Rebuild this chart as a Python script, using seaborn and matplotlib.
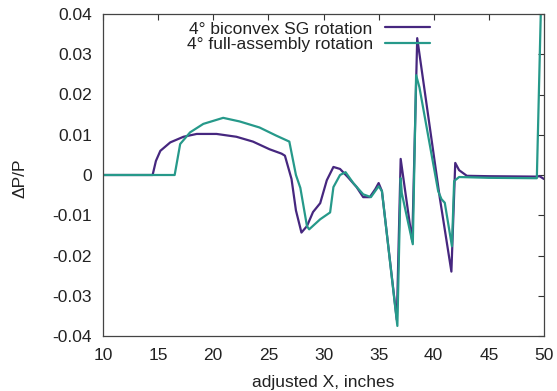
import numpy as np
import pandas as pd
import matplotlib
matplotlib.use("Agg")
import matplotlib.pyplot as plt
import seaborn as sns
from matplotlib.ticker import FuncFormatter
from matplotlib.lines import Line2D

# ---- data ----
series_names = ["4° biconvex SG rotation", "4° full-assembly rotation"]

x_biconvex = [10, 14.5, 14.8, 15.2, 16.1, 17.3, 18.5, 20.3, 22.1, 23.6, 25.1, 26.2, 26.5,
              27.1, 27.5, 28.0, 28.5, 29.05, 29.7, 30.3, 30.9, 31.5, 32.2, 33.0, 33.6,
              34.2, 34.7, 35.0, 35.3, 36.65, 37.0, 38.05, 38.5, 40.55, 41.6, 41.95,
              42.3, 43.0, 45.0, 49.3, 49.6, 50.0]
y_biconvex = [0, 0, 0.0035, 0.006, 0.0081, 0.0095, 0.0102, 0.0102, 0.0095, 0.0083, 0.0064,
              0.0053, 0.0048, -0.001, -0.0088, -0.0143, -0.0127, -0.0092, -0.007, -0.0013,
              0.002, 0.0015, -0.0005, -0.003, -0.0055, -0.0055, -0.0035, -0.002, -0.004,
              -0.036, 0.0040, -0.0165, 0.034, -0.0057, -0.024, 0.003, 0.0012, -0.0002,
              -0.0003, -0.0004, -0.0003, -0.001]

x_full = [10, 16.5, 17.0, 17.9, 19.1, 20.9, 22.4, 24.2, 25.7, 26.9, 27.5, 27.9, 28.5,
          28.7, 29.7, 30.6, 30.9, 31.5, 32.0, 32.7, 33.6, 34.3, 35.0, 35.3, 36.7, 37.0,
          37.1, 38.1, 38.4, 38.7, 40.4, 40.7, 41.0, 41.65, 41.85, 42.3, 45.0, 49.35, 49.75]
y_full = [0, 0, 0.0077, 0.0106, 0.0127, 0.0142, 0.0133, 0.0118, 0.0098, 0.0083, 0.0,
          -0.0032, -0.0127, -0.0135, -0.011, -0.0093, -0.003, 0.0, 0.0007, -0.002,
          -0.0048, -0.0055, -0.0028, -0.004, -0.0375, -0.0008, -0.0045, -0.0172, 0.0248,
          0.0218, -0.004, -0.006, -0.0069, -0.0177, -0.0015, -0.0005, -0.0007, -0.0008,
          0.045]

x_ticks = [10, 15, 20, 25, 30, 35, 40, 45, 50]
y_ticks = [-0.04, -0.03, -0.02, -0.01, 0, 0.01, 0.02, 0.03, 0.04]

colors = ["#46277f", "#26998a"]

df = pd.concat([
    pd.DataFrame({"x": x_biconvex, "y": y_biconvex, "series": series_names[0]}),
    pd.DataFrame({"x": x_full, "y": y_full, "series": series_names[1]}),
], ignore_index=True)

sns.set_theme(style="white")
plt.rcParams["font.family"] = ["Liberation Sans", "DejaVu Sans"]
plt.rcParams["axes.unicode_minus"] = False

fig = plt.figure(figsize=(5.57, 3.91), dpi=100)
ax = fig.add_axes([103 / 557, 1 - 336 / 391, (544 - 103) / 557, (336 - 14) / 391])

sns.lineplot(data=df, x="x", y="y", hue="series", palette=colors, sort=False,
             estimator=None, linewidth=1.6, ax=ax, legend=False)

ax.set_xlim(10, 50)
ax.set_ylim(-0.04, 0.04)
ax.set_xticks(x_ticks)
ax.set_yticks(y_ticks)
ax.xaxis.set_major_formatter(FuncFormatter(lambda v, p: f"{v:g}"))
ax.yaxis.set_major_formatter(FuncFormatter(lambda v, p: f"{v:g}"))
ax.tick_params(axis="both", direction="in", length=4, width=0.8, color="#333333",
               top=True, right=True, labelsize=12.5, labelcolor="#222222")
ax.tick_params(axis="x", pad=9)
ax.tick_params(axis="y", pad=8)
for s in ax.spines.values():
    s.set_color("#444444")
    s.set_linewidth(0.9)

ax.set_xlabel("adjusted X, inches", fontsize=12.5, color="#222222")
ax.set_ylabel("ΔP/P", fontsize=12.5, color="#222222")
ax.xaxis.set_label_coords(0.5, -0.12)
ax.yaxis.set_label_coords(-0.172, 0.49)

handles = [Line2D([], [], color=c, linewidth=1.6) for c in colors]
fig.legend(handles, series_names, loc="center right",
           bbox_to_anchor=(430 / 557, 1 - 36.5 / 391), frameon=False, markerfirst=False,
           fontsize=12.5, labelspacing=0.0, handlelength=2.6, handletextpad=0.7,
           borderpad=0, borderaxespad=0, labelcolor="#222222")

fig.savefig("out.png", dpi=100)
